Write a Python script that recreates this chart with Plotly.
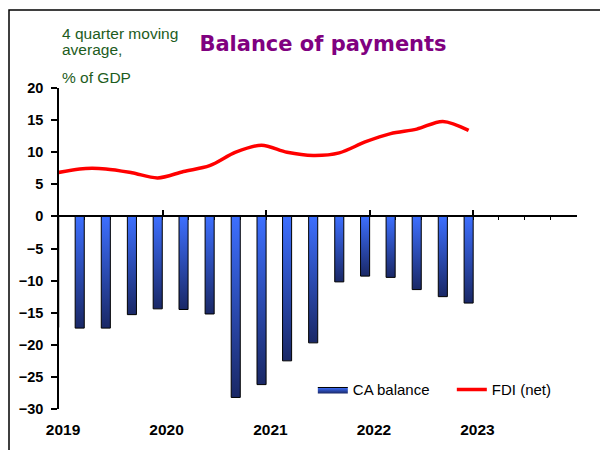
import pandas as pd
import plotly.graph_objects as go

# Quarterly observations (plotted mid-way through the last month of each quarter)
quarters = [
    "2018-12-15",
    "2019-03-15", "2019-06-15", "2019-09-15", "2019-12-15",
    "2020-03-15", "2020-06-15", "2020-09-15", "2020-12-15",
    "2021-03-15", "2021-06-15", "2021-09-15", "2021-12-15",
    "2022-03-15", "2022-06-15", "2022-09-15", "2022-12-15",
]
ca_balance = [-17.3, -17.4, -17.4, -15.3, -14.4, -14.5, -15.2, -28.2, -26.2,
              -22.5, -19.7, -10.2, -9.3, -9.5, -11.4, -12.5, -13.5]
fdi_net = [6.7, 7.4, 7.4, 6.8, 6.0, 7.0, 7.9, 10.0, 11.1,
           10.0, 9.5, 9.9, 11.6, 12.9, 13.6, 14.8, 13.4]

year_ticks = ["2019-01-01", "2020-01-01", "2021-01-01", "2022-01-01", "2023-01-01"]
year_labels = ["2019", "2020", "2021", "2022", "2023"]

FONT = "Liberation Sans, Arial, sans-serif"
BAR_HALF = pd.Timedelta(days=16)

fig = go.Figure()

# Current-account bars, each a closed outline with its own vertical gradient
for i, (d, v) in enumerate(zip(quarters, ca_balance)):
    t = pd.Timestamp(d)
    fig.add_trace(go.Scatter(
        x=[t - BAR_HALF, t - BAR_HALF, t + BAR_HALF, t + BAR_HALF, t - BAR_HALF],
        y=[0, v, v, 0, 0],
        mode="lines",
        fill="toself",
        fillgradient=dict(type="vertical",
                          colorscale=[[0, "#1a2866"], [1, "#3d6fff"]]),
        line=dict(color="black", width=1),
        name="CA balance",
        legendgroup="ca",
        showlegend=(i == 0),
        hoverinfo="skip",
        xaxis="x", yaxis="y",
    ))

# Net FDI, smoothed line
fig.add_trace(go.Scatter(
    x=quarters, y=fdi_net,
    mode="lines",
    line=dict(color="#ff0000", width=3.5, shape="spline", smoothing=0.9),
    name="FDI (net)",
    xaxis="x2", yaxis="y",
))

x_range = ["2019-01-01", "2024-01-01"]

fig.update_layout(
    width=600, height=450,
    margin=dict(l=59, r=23, t=88, b=41, autoexpand=False),
    paper_bgcolor="white", plot_bgcolor="white",
    font=dict(family=FONT, size=14, color="black"),
    showlegend=True,
    legend=dict(
        orientation="h",
        x=0.49, xanchor="left",
        y=0.06, yanchor="middle",
        font=dict(family=FONT, size=15, color="black"),
        bgcolor="rgba(0,0,0,0)",
        itemwidth=30,
        entrywidth=94, entrywidthmode="pixels",
    ),
    title=dict(
        text="<b>Balance of payments</b>",
        font=dict(family="DejaVu Sans, sans-serif", size=21, color="#800080"),
        x=323 / 600, xanchor="center",
        y=1 - 44 / 450, yanchor="middle",
        xref="container", yref="container",
    ),
    # axis drawn through zero, carrying the quarterly ticks
    xaxis=dict(
        type="date", range=x_range,
        anchor="free", position=0.6,
        showline=True, linecolor="black", linewidth=1.5,
        ticks="inside", ticklen=6, tickwidth=1.5, tickcolor="black",
        tick0="2019-01-01", dtick="M12",
        minor=dict(ticks="outside", ticklen=3, tickwidth=1, tickcolor="black",
                   tick0="2019-01-01", dtick="M3", showgrid=False),
        showticklabels=False,
        showgrid=False, zeroline=False,
        layer="below traces",
        automargin=False,
    ),
    # year labels along the bottom
    xaxis2=dict(
        type="date", range=x_range,
        overlaying="x", anchor="y", side="bottom",
        showline=False,
        tickvals=year_ticks, ticktext=year_labels,
        ticks="outside", ticklen=6, tickcolor="rgba(0,0,0,0)",
        tickfont=dict(family=FONT, size=15.5, color="black", weight="bold"),
        ticklabelshift=4,
        showgrid=False, zeroline=False,
        automargin=False,
    ),
    yaxis=dict(
        range=[-30, 20], dtick=5,
        showline=True, linecolor="black", linewidth=1.5,
        ticks="outside", ticklen=6, tickwidth=1.5, tickcolor="black",
        tickfont=dict(family=FONT, size=14.5, color="black", weight="bold"),
        ticklabelstandoff=5,
        showgrid=False, zeroline=False,
        automargin=False,
    ),
)

# Units note above the value axis
unit_color = "#1d5c1d"
for text, ypx in [("4 quarter moving", 33), ("average,", 50), ("% of GDP", 77)]:
    fig.add_annotation(
        text=text, xref="paper", yref="paper",
        x=(60 - 59) / 518, y=(409 - ypx) / 321,
        xanchor="left", yanchor="middle", showarrow=False,
        font=dict(family=FONT, size=15.5, color=unit_color),
    )

# Outer chart frame (top and left edges fall inside the page)
fig.add_shape(
    type="rect", xref="paper", yref="paper",
    x0=(9 - 59) / 518, x1=1.2,
    y0=-0.3, y1=(409 - 10) / 321,
    line=dict(color="black", width=1.5),
    fillcolor="rgba(0,0,0,0)",
    layer="below",
)

fig.write_html("out.html")
